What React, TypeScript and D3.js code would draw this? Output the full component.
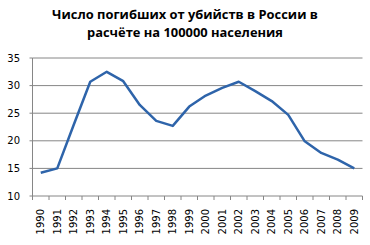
import React from "react";
import * as d3 from "d3";

const years = ["1990","1991","1992","1993","1994","1995","1996","1997","1998","1999","2000","2001","2002","2003","2004","2005","2006","2007","2008","2009"];
const rates = [14.2,15.0,22.9,30.7,32.5,30.8,26.5,23.6,22.7,26.2,28.2,29.6,30.7,29.0,27.2,24.7,19.9,17.8,16.6,15.0];
const yTicks = [10,15,20,25,30,35];
const titleLines = ["Число погибших от убийств в России в", "расчёте на 100000 населения"];

const W = 370, H = 245;
const left = 32.5, right = 362.5, top = 58, bottom = 196;

export default function App() {
  const x = d3.scaleBand<string>().domain(years).range([left, right]);
  const y = d3.scaleLinear().domain([10, 35]).range([bottom, top]);
  const line = d3.line<number>()
    .x((_, i) => (x(years[i]) as number) + x.bandwidth() / 2)
    .y((d) => y(d));
  const axisColor = "#868686";
  return (
    <svg width={W} height={H} style={{ position: "absolute", left: 0, top: 0, background: "#fff" }}>
      {titleLines.map((t, i) => (
        <text key={i} x={185} y={19 + i * 18} textAnchor="middle" fontFamily="'Open Sans', sans-serif" fontWeight="bold" fontSize={12.9} fill="#000">{t}</text>
      ))}
      {yTicks.map((t) => (
        <g key={t}>
          {t !== 10 && <line x1={left} x2={right} y1={y(t)} y2={y(t)} stroke={axisColor} strokeWidth={1} />}
          <line x1={left - 3} x2={left} y1={y(t)} y2={y(t)} stroke={axisColor} strokeWidth={1} />
          <text x={20} y={y(t) + 3.5} textAnchor="end" fontFamily="'DejaVu Sans', sans-serif" fontSize={10} fill="#000">{t}</text>
        </g>
      ))}
      <line x1={left} x2={left} y1={top} y2={bottom} stroke={axisColor} strokeWidth={1} />
      <line x1={left} x2={right} y1={bottom} y2={bottom} stroke={axisColor} strokeWidth={1} />
      {years.map((yr, i) => (
        <line key={"t" + yr} x1={left + i * x.step()} x2={left + i * x.step()} y1={bottom} y2={bottom + 4} stroke={axisColor} />
      ))}
      <line x1={right} x2={right} y1={bottom} y2={bottom + 4} stroke={axisColor} />
      {years.map((yr) => {
        const cx = (x(yr) as number) + x.bandwidth() / 2;
        return (
          <text key={yr} transform={`translate(${cx + 3.5},${209}) rotate(-90)`} textAnchor="end" fontFamily="'DejaVu Sans', sans-serif" fontSize={10} fill="#000">{yr}</text>
        );
      })}
      <path d={line(rates) || ""} fill="none" stroke="#2e64aa" strokeWidth={2.5} strokeLinejoin="round" />
    </svg>
  );
}
